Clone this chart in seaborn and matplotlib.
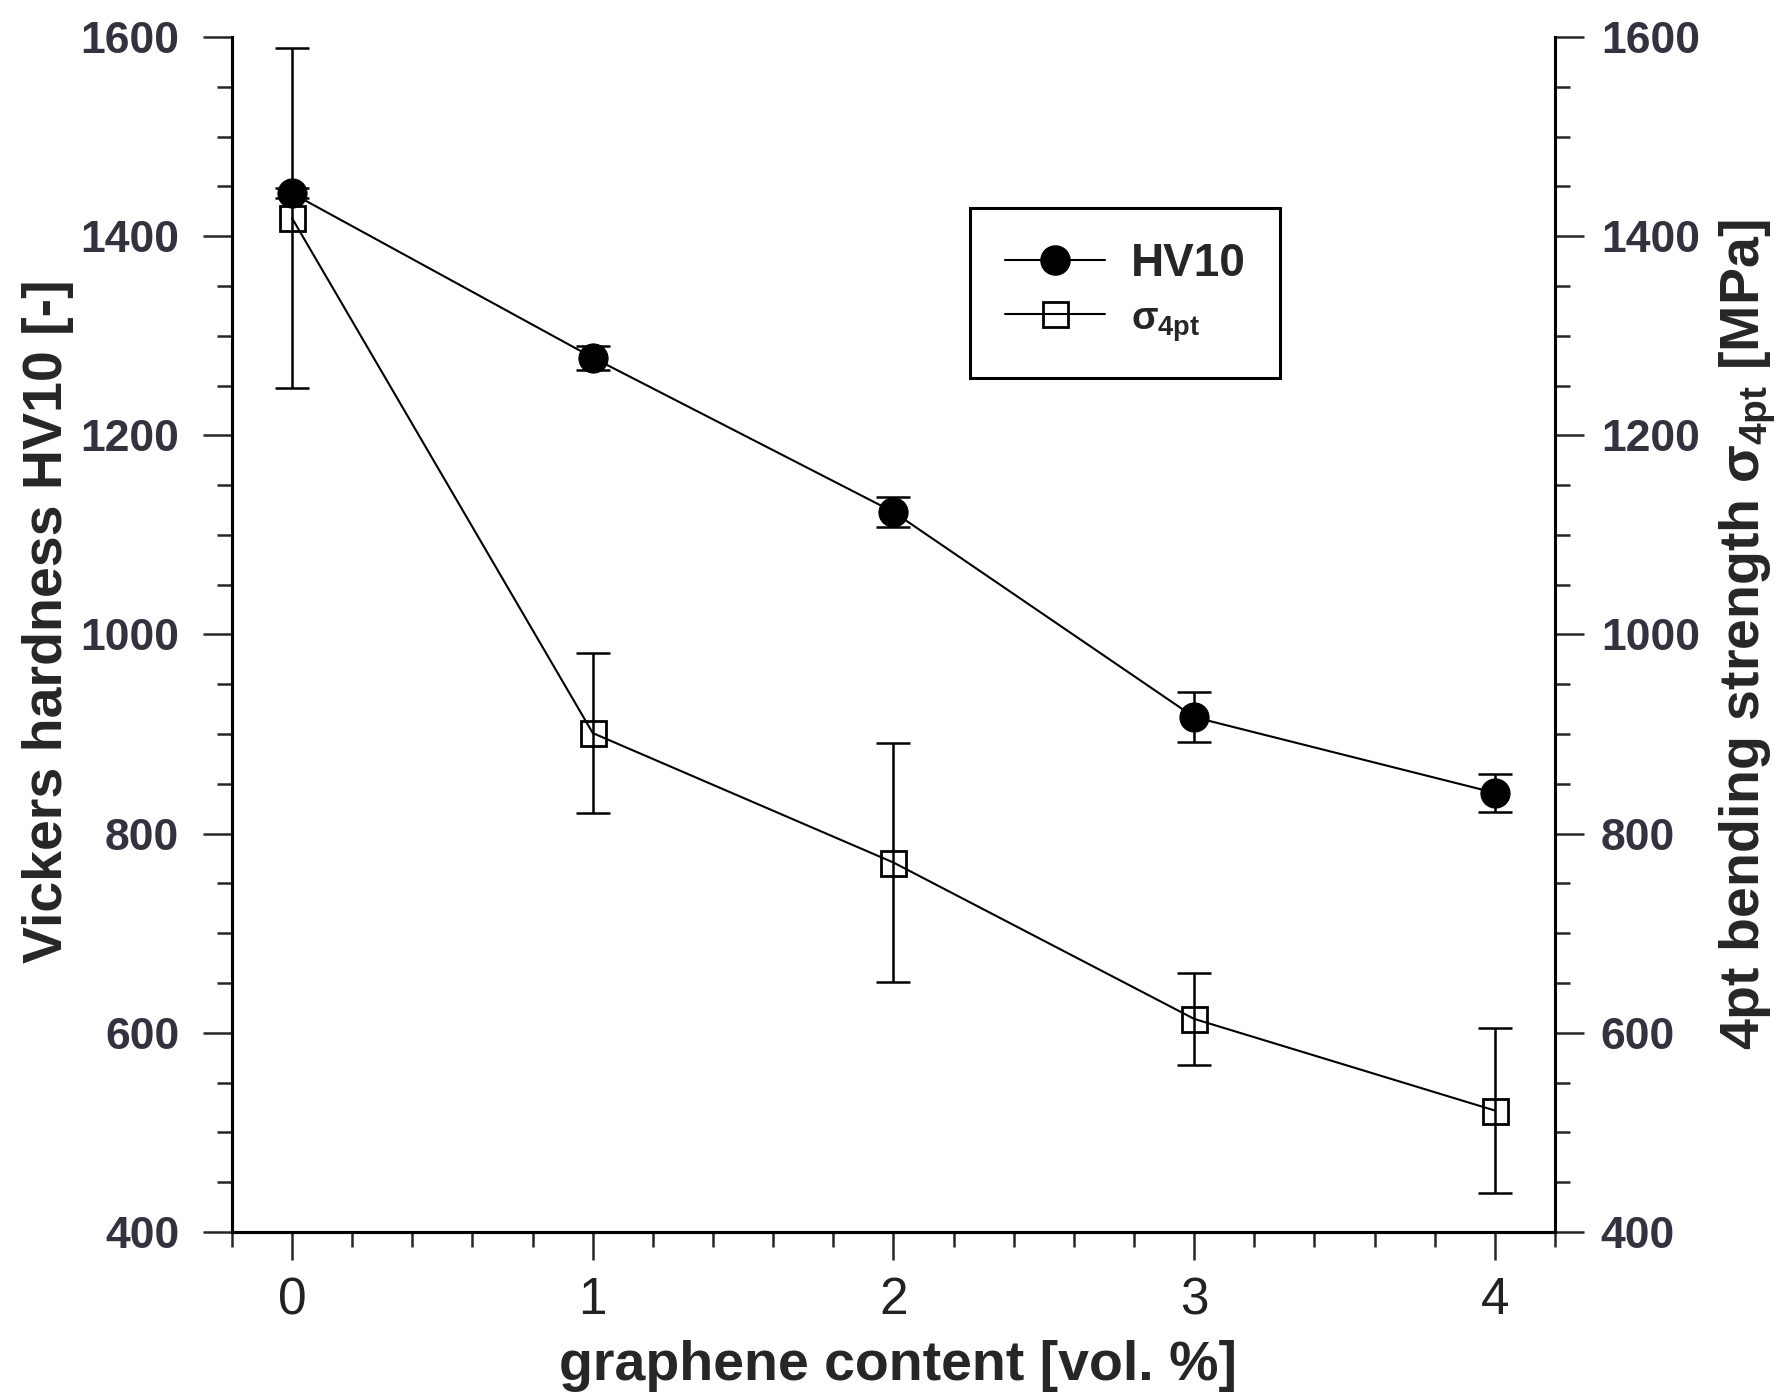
import matplotlib
matplotlib.use("Agg")
import matplotlib.pyplot as plt
from matplotlib.ticker import MultipleLocator
from matplotlib.lines import Line2D
import seaborn as sns
import pandas as pd

# ---- data ----
graphene = [0, 1, 2, 3, 4]
hv10 = [1443, 1278, 1123, 917, 841]
hv10_err = [5, 12, 15, 25, 19]
sigma = [1418, 901, 771, 614, 522]
sigma_err = [171, 80, 120, 46, 83]
y_ticks = [400, 600, 800, 1000, 1200, 1400, 1600]
x_ticks = [0, 1, 2, 3, 4]

sns.set_theme(style="ticks")
plt.rcParams['font.family'] = ['Liberation Sans', 'DejaVu Sans']
plt.rcParams['mathtext.fontset'] = 'custom'
plt.rcParams['mathtext.rm'] = 'Liberation Sans:bold'
plt.rcParams['mathtext.bf'] = 'Liberation Sans:bold'
plt.rcParams['mathtext.it'] = 'Liberation Sans:bold'

df = pd.DataFrame({"x": graphene, "hv": hv10, "sig": sigma})

fig = plt.figure(figsize=(17.8, 13.94), dpi=100)
ax = fig.add_axes([0.1303, 0.1162, 0.7433, 0.8573])
ax2 = ax.twinx()

sns.lineplot(data=df, x="x", y="hv", ax=ax, color="black", linewidth=1.5,
             marker="o", markersize=21, markeredgecolor="black", zorder=4)
ax.errorbar(graphene, hv10, yerr=hv10_err, fmt="none", ecolor="black",
            elinewidth=1.8, capsize=12, capthick=1.8, zorder=3)

sns.lineplot(data=df, x="x", y="sig", ax=ax2, color="black", linewidth=1.5,
             marker="s", markersize=18, markeredgecolor="black", zorder=4)
for ln in ax2.lines:
    ln.set_markerfacecolor("none")
    ln.set_markeredgewidth(2)
ax2.errorbar(graphene, sigma, yerr=sigma_err, fmt="none", ecolor="black",
             elinewidth=1.8, capsize=12, capthick=1.8, zorder=3)

tick_color = "#333340"
for a in (ax, ax2):
    a.set_ylim(400, 1600)
    a.set_xlim(-0.2, 4.2)
    a.set_yticks(y_ticks)
    a.yaxis.set_minor_locator(MultipleLocator(50))
    a.set_xlabel("")
    a.set_ylabel("")
    a.spines['top'].set_visible(False)
    for s in a.spines.values():
        s.set_linewidth(2.2)
        s.set_color("black")
    a.tick_params(axis='y', which='major', length=21, width=1.8, labelsize=32,
                  labelcolor=tick_color, pad=12)
    a.tick_params(axis='y', which='minor', length=11, width=1.8)
    for lab in a.get_yticklabels():
        lab.set_fontweight("bold")
ax.tick_params(axis='y', which='major', pad=17)

ax.spines['right'].set_visible(False)
ax.set_xticks(x_ticks)
ax.xaxis.set_minor_locator(MultipleLocator(0.2))
ax.tick_params(axis='x', which='major', length=20, width=1.8, labelsize=37,
               labelcolor="#222222", pad=12)
ax.tick_params(axis='x', which='minor', length=11, width=1.8)
ax2.tick_params(axis='x', which='both', length=0, labelbottom=False)

fig.text(0.027, 0.5545, "Vickers hardness HV10 [-]", rotation=90, ha="center", va="center",
         fontsize=40, fontweight="bold")
fig.text(0.982, 0.5445, r"4pt bending strength $\sigma_{4pt}$ [MPa]", rotation=90,
         ha="center", va="center", fontsize=40, fontweight="bold")
fig.text(0.5045, 0.020, "graphene content [vol. %]", ha="center", va="center",
         fontsize=40, fontweight="bold")

for a in (ax, ax2):
    if a.get_legend() is not None:
        a.get_legend().remove()

handles = [
    Line2D([], [], color="black", linewidth=1.5, marker="o", markersize=21,
           markerfacecolor="black", markeredgecolor="black"),
    Line2D([], [], color="black", linewidth=1.5, marker="s", markersize=18,
           markerfacecolor="none", markeredgecolor="black", markeredgewidth=2),
]
leg = ax2.legend(handles, ["HV10", r"$\sigma_{4pt}$"], loc="upper left",
                 bbox_to_anchor=(0.558, 0.857), frameon=True, fancybox=False,
                 framealpha=1, edgecolor="black", fontsize=33, handlelength=2.2,
                 handletextpad=0.55, borderpad=0.75, labelspacing=0.25, borderaxespad=0)
leg.get_frame().set_linewidth(2.2)
for t in leg.get_texts():
    t.set_fontweight("bold")
leg.get_texts()[1].set_fontsize(28)

fig.savefig("out.png", dpi=100)
